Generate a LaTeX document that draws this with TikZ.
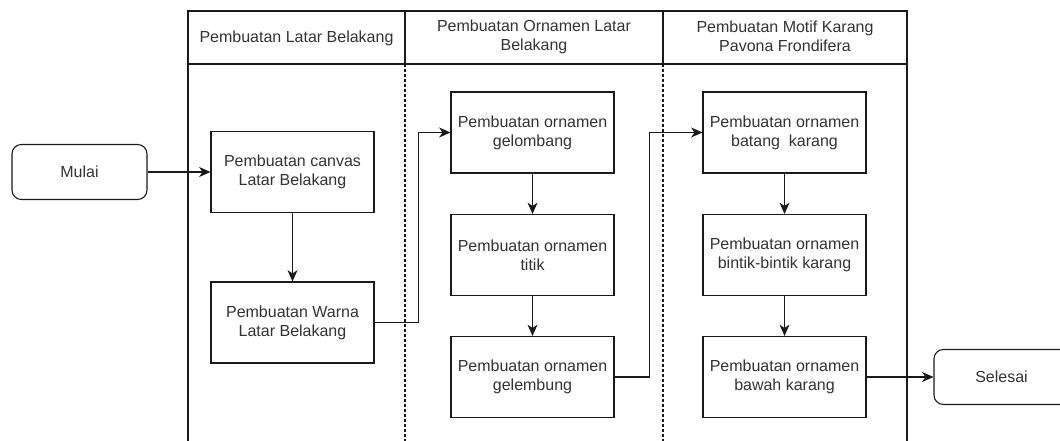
\documentclass[tikz,border=0pt]{standalone}
\usepackage{fontspec}
\setmainfont{Liberation Sans}
\usetikzlibrary{arrows.meta}
\definecolor{ln}{HTML}{1A1A1A}
\definecolor{tx}{HTML}{333333}
\tikzset{
  stepbox/.style={draw=ln, line width=0.8pt, fill=white, minimum width=122.25pt, minimum height=60.75pt,
    align=center, text=tx, font=\fontsize{12}{14.4}\selectfont, inner sep=0pt},
  term/.style={draw=ln, line width=0.8pt, fill=white, rounded corners=7pt, minimum width=101.25pt,
    minimum height=41.25pt, align=center, text=tx, font=\fontsize{12}{14.4}\selectfont, inner sep=0pt},
  hdr/.style={align=center, text=tx, font=\fontsize{12}{14.4}\selectfont, inner sep=0pt},
  pool/.style={draw=ln, line width=0.8pt},
  lanesep/.style={draw=ln, line width=0.8pt, dash pattern=on 2.25pt off 1.5pt},
  flow/.style={draw=ln, line width=0.8pt, -{Stealth[length=8.5pt,width=7.5pt,inset=2.5pt]}}
}
\begin{document}
\begin{tikzpicture}[x=0.75pt,y=-0.75pt]
\useasboundingbox (0,0) rectangle (1060,441);
\clip (0,0) rectangle (1060,441);
% pool frame
\coordinate (tl) at (188,11);
\coordinate (tr) at (907,11);
\coordinate (bl) at (188,441);
\coordinate (br) at (907,441);
\coordinate (hl) at (188,64);
\coordinate (hr) at (907,64);
\coordinate (s1t) at (405,11);
\coordinate (s1h) at (405,64);
\coordinate (s1b) at (405,441);
\coordinate (s2t) at (663,11);
\coordinate (s2h) at (663,64);
\coordinate (s2b) at (663,441);
\draw[pool] (bl) -- (tl) -- (tr) -- (br);
\draw[pool] (hl) -- (hr);
\draw[pool] (s1t) -- (s1h);
\draw[pool] (s2t) -- (s2h);
\draw[lanesep] (s1h) -- (s1b);
\draw[lanesep] (s2h) -- (s2b);
% headers
\node[hdr] (h1) at (296.5,38) {Pembuatan Latar Belakang};
\node[hdr] (h2) at (534,36.5) {Pembuatan Ornamen Latar\\Belakang};
\node[hdr] (h3) at (785,36.5) {Pembuatan Motif Karang\\Pavona Frondifera};
% terminals
\node[term] (mulai) at (79.5,172) {Mulai};
\node[term] (selesai) at (1001.5,377) {Selesai};
% steps
\node[stepbox] (b1) at (292.5,172) {Pembuatan canvas\\Latar Belakang};
\node[stepbox] (b2) at (292.5,322.5) {Pembuatan Warna\\Latar Belakang};
\node[stepbox] (b3) at (532.5,132.5) {Pembuatan ornamen\\gelombang};
\node[stepbox] (b4) at (532.5,255) {Pembuatan ornamen\\titik};
\node[stepbox] (b5) at (532.5,377) {Pembuatan ornamen\\gelembung};
\node[stepbox] (b6) at (784.5,132.5) {Pembuatan ornamen\\batang\ \ karang};
\node[stepbox] (b7) at (784.5,255) {Pembuatan ornamen\\bintik-bintik karang};
\node[stepbox] (b8) at (784.5,377) {Pembuatan ornamen\\bawah karang};
% connectors
\draw[flow] (mulai.east) -- (b1.west);
\draw[flow] (b1.south) -- (b2.north);
\draw[flow] (b2.east) -- ++(44,0) |- (b3.west);
\draw[flow] (b3.south) -- (b4.north);
\draw[flow] (b4.south) -- (b5.north);
\draw[flow] (b5.east) -- ++(35,0) |- (b6.west);
\draw[flow] (b6.south) -- (b7.north);
\draw[flow] (b7.south) -- (b8.north);
\draw[flow] (b8.east) -- (selesai.west);
\end{tikzpicture}
\end{document}
